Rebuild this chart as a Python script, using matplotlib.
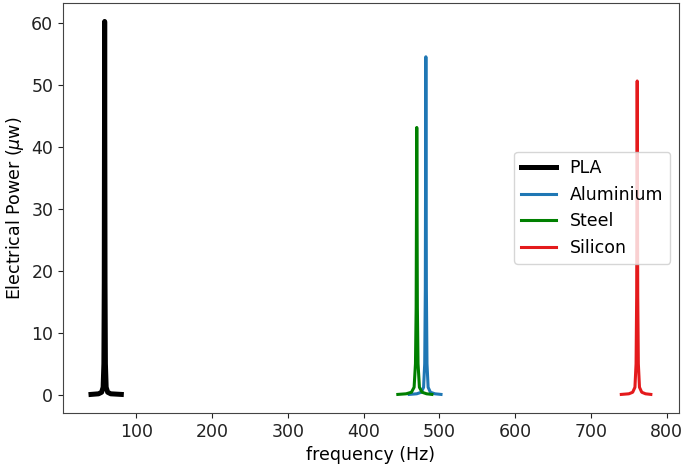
import matplotlib
matplotlib.use("Agg")
import matplotlib.pyplot as plt

# resonance curves (frequency in Hz, power in uW)
pla_f = [40, 50, 54, 56, 57, 57.5, 58, 58.5, 59, 60, 62, 66, 80]
pla_p = [0.05, 0.15, 0.4, 1.2, 5, 18, 60.2, 18, 5, 1.2, 0.4, 0.15, 0.05]

alu_f = [460, 470, 476, 479, 480.5, 481.3, 482, 482.7, 483.5, 485, 488, 494, 502]
alu_p = [0.05, 0.15, 0.4, 1.2, 5, 17, 54.5, 17, 5, 1.2, 0.4, 0.15, 0.05]

steel_f = [445, 456, 463, 466.5, 468.3, 469.2, 470, 470.8, 471.7, 473.5, 477, 483, 490]
steel_p = [0.05, 0.15, 0.4, 1.2, 5, 14, 43.1, 14, 5, 1.2, 0.4, 0.15, 0.05]

si_f = [740, 750, 755, 758, 759.5, 760.3, 761, 761.7, 762.5, 764, 767, 772, 779]
si_p = [0.05, 0.15, 0.4, 1.2, 5, 16, 50.6, 16, 5, 1.2, 0.4, 0.15, 0.05]

plt.rcParams["font.size"] = 12.5

fig, ax = plt.subplots(figsize=(6.85, 4.71), dpi=100)
fig.subplots_adjust(left=0.092, right=0.991, top=0.994, bottom=0.123)

ax.plot(pla_f, pla_p, color="black", lw=3.6, label="PLA")
ax.plot(alu_f, alu_p, color="#1f77b4", lw=2.2, label="Aluminium")
ax.plot(steel_f, steel_p, color="green", lw=2.2, label="Steel")
ax.plot(si_f, si_p, color="#e41a1c", lw=2.2, label="Silicon")

ax.set_xlabel("frequency (Hz)")
ax.set_ylabel(r"Electrical Power ($\mu$w)")
ax.set_xticks([100, 200, 300, 400, 500, 600, 700, 800])
ax.set_yticks([0, 10, 20, 30, 40, 50, 60])
for s in ax.spines.values():
    s.set_color("#444444")
ax.tick_params(colors="#222222")
ax.legend(loc="center right")

fig.savefig("out.png", dpi=100)
